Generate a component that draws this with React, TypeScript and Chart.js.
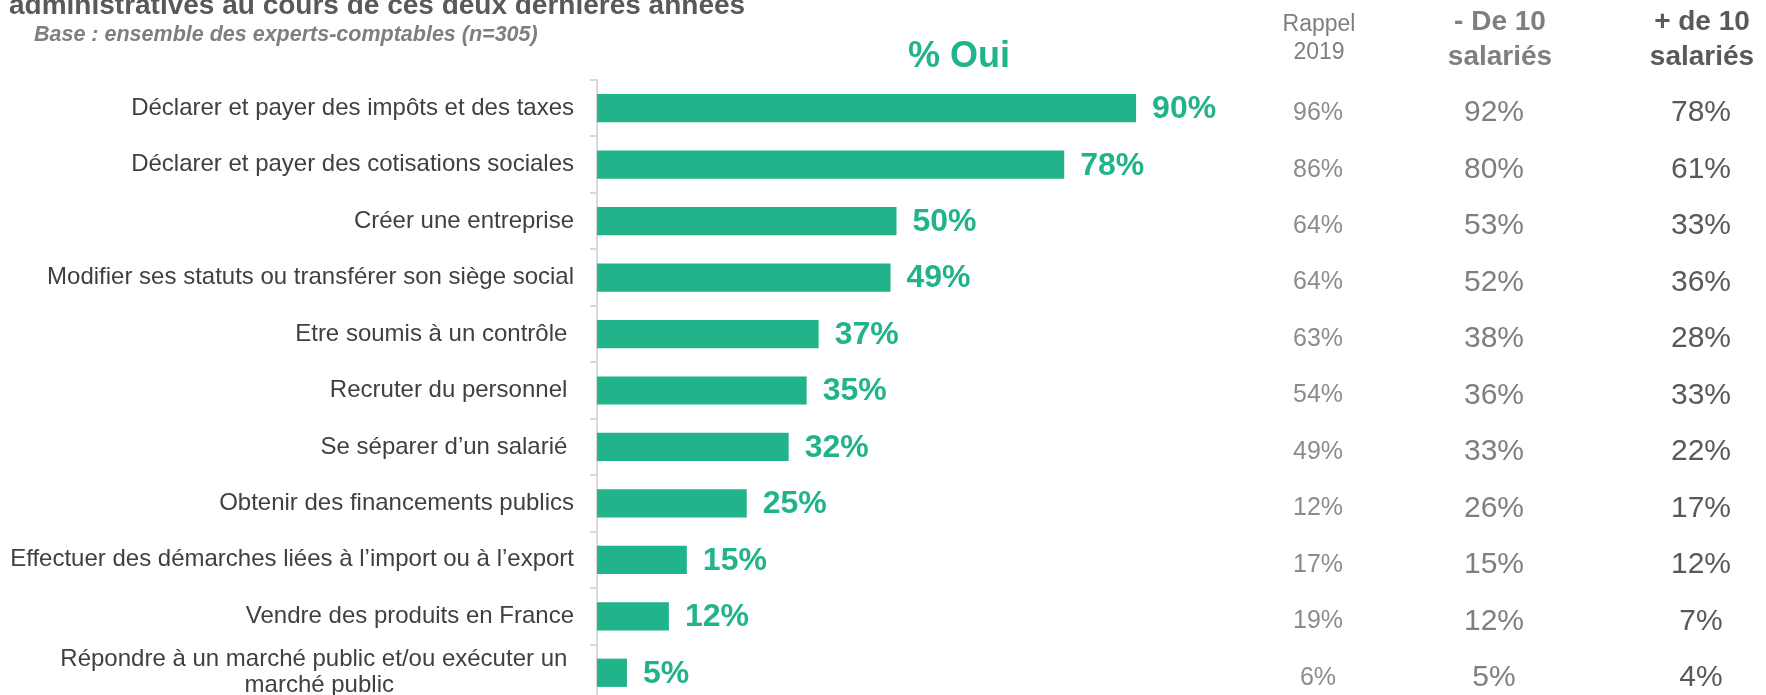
import React, { useEffect, useRef } from "react";
import { Chart, registerables } from "chart.js";

Chart.register(...registerables);

const FONT = '"Liberation Sans", Arial, sans-serif';
const GREEN = "#21B38A";

const categoryLines: string[][] = [
  ["Déclarer et payer des impôts et des taxes"],
  ["Déclarer et payer des cotisations sociales"],
  ["Créer une entreprise"],
  ["Modifier ses statuts ou transférer son siège social"],
  ["Etre soumis à un contrôle "],
  ["Recruter du personnel "],
  ["Se séparer d’un salarié "],
  ["Obtenir des financements publics"],
  ["Effectuer des démarches liées à l’import ou à l’export"],
  ["Vendre des produits en France"],
  ["Répondre à un marché public et/ou exécuter un ", "marché public"],
];

const pctOui = [90, 78, 50, 49, 37, 35, 32, 25, 15, 12, 5];
const rappel2019 = [96, 86, 64, 64, 63, 54, 49, 12, 17, 19, 6];
const moinsDe10 = [92, 80, 53, 52, 38, 36, 33, 26, 15, 12, 5];
const plusDe10 = [78, 61, 33, 36, 28, 33, 22, 17, 12, 7, 4];

const titleText = "administratives au cours de ces deux dernières années";
const subtitleText = "Base : ensemble des experts-comptables (n=305)";
const mainHeader = "% Oui";
const colHeaders: string[][] = [
  ["Rappel", "2019"],
  ["- De 10", "salariés"],
  ["+ de 10", "salariés"],
];

const LABEL_FONT = `24px ${FONT}`;

function centerLines(lines: string[], font: string): any {
  if (lines.length === 1) return lines[0];
  const c = document.createElement("canvas").getContext("2d")!;
  c.font = font;
  const widths = lines.map((l) => c.measureText(l).width);
  const max = Math.max(...widths);
  const sp = c.measureText(" ").width;
  return lines.map((l, i) => l + " ".repeat(Math.round((max - widths[i]) / 2 / sp)));
}

const overlayPlugin = {
  id: "overlay",
  afterDatasetsDraw(chart: any) {
    const ctx: CanvasRenderingContext2D = chart.ctx;
    const meta = chart.getDatasetMeta(0);
    const yScale = chart.scales.y;
    ctx.save();

    // value labels next to bars
    ctx.font = `bold 32px ${FONT}`;
    ctx.fillStyle = GREEN;
    ctx.textAlign = "left";
    ctx.textBaseline = "middle";
    meta.data.forEach((bar: any, i: number) => {
      ctx.fillText(`${pctOui[i]}%`, bar.x + 16, bar.y + 1);
    });

    // right-hand columns
    const cols = [
      { data: rappel2019, x: 1318, font: `25px ${FONT}`, color: "#8C8C8C" },
      { data: moinsDe10, x: 1494, font: `30px ${FONT}`, color: "#7F7F7F" },
      { data: plusDe10, x: 1701, font: `30px ${FONT}`, color: "#595959" },
    ];
    ctx.textAlign = "center";
    cols.forEach((col) => {
      ctx.font = col.font;
      ctx.fillStyle = col.color;
      col.data.forEach((v, i) => {
        ctx.fillText(`${v}%`, col.x, yScale.getPixelForValue(i) + 5);
      });
    });

    // headers
    ctx.textBaseline = "alphabetic";
    const heads = [
      { lines: colHeaders[0], x: 1319, font: `23px ${FONT}`, color: "#7F7F7F", ys: [31, 59] },
      { lines: colHeaders[1], x: 1500, font: `bold 28px ${FONT}`, color: "#7F7F7F", ys: [30, 65] },
      { lines: colHeaders[2], x: 1702, font: `bold 28px ${FONT}`, color: "#595959", ys: [30, 65] },
    ];
    heads.forEach((h) => {
      ctx.font = h.font;
      ctx.fillStyle = h.color;
      h.lines.forEach((l, k) => ctx.fillText(l, h.x, h.ys[k]));
    });

    ctx.font = `bold 36px ${FONT}`;
    ctx.fillStyle = GREEN;
    ctx.fillText(mainHeader, 959, 67);

    // title and subtitle
    ctx.textAlign = "left";
    ctx.font = `bold 28px ${FONT}`;
    ctx.fillStyle = "#595959";
    ctx.fillText(titleText, 9, 14);
    ctx.font = `italic bold 21.5px ${FONT}`;
    ctx.fillStyle = "#7F7F7F";
    ctx.fillText(subtitleText, 34, 41);

    ctx.restore();
  },
};

export default function App() {
  const ref = useRef<HTMLCanvasElement | null>(null);

  useEffect(() => {
    document.body.style.margin = "0";
    document.body.style.overflow = "hidden";
    const labels = categoryLines.map((l) => centerLines(l, LABEL_FONT));
    const chart = new Chart(ref.current!, {
      type: "bar",
      data: {
        labels,
        datasets: [
          {
            data: pctOui,
            backgroundColor: GREEN,
            borderWidth: 0,
            barPercentage: 1,
            categoryPercentage: 0.5,
          },
        ],
      },
      options: {
        indexAxis: "y",
        responsive: false,
        animation: false,
        layout: { padding: { left: 0, top: 80, right: 570, bottom: 20 } },
        plugins: {
          legend: { display: false },
          tooltip: { enabled: false },
          title: { display: false },
        },
        scales: {
          x: { display: false, min: 0, max: 100 },
          y: {
            afterFit: (scale: any) => {
              scale.width = 597;
              scale.paddingTop = 0;
              scale.paddingBottom = 0;
            },
            grid: {
              display: true,
              drawOnChartArea: false,
              drawTicks: true,
              tickLength: 7,
              color: "#D9D9D9",
              lineWidth: 2,
              offset: true,
            },
            border: { display: true, color: "#D9D9D9", width: 2 },
            ticks: {
              color: "#404040",
              font: { family: FONT, size: 24, lineHeight: 1.08 },
              padding: 16,
              autoSkip: false,
            },
          },
        },
      },
      plugins: [overlayPlugin],
    } as any);
    return () => chart.destroy();
  }, []);

  return (
    <div style={{ position: "fixed", left: 0, top: 0, width: 1766, height: 695, overflow: "hidden", background: "#fff" }}>
      <canvas ref={ref} width={1766} height={721} style={{ width: 1766, height: 721, display: "block" }} />
    </div>
  );
}
